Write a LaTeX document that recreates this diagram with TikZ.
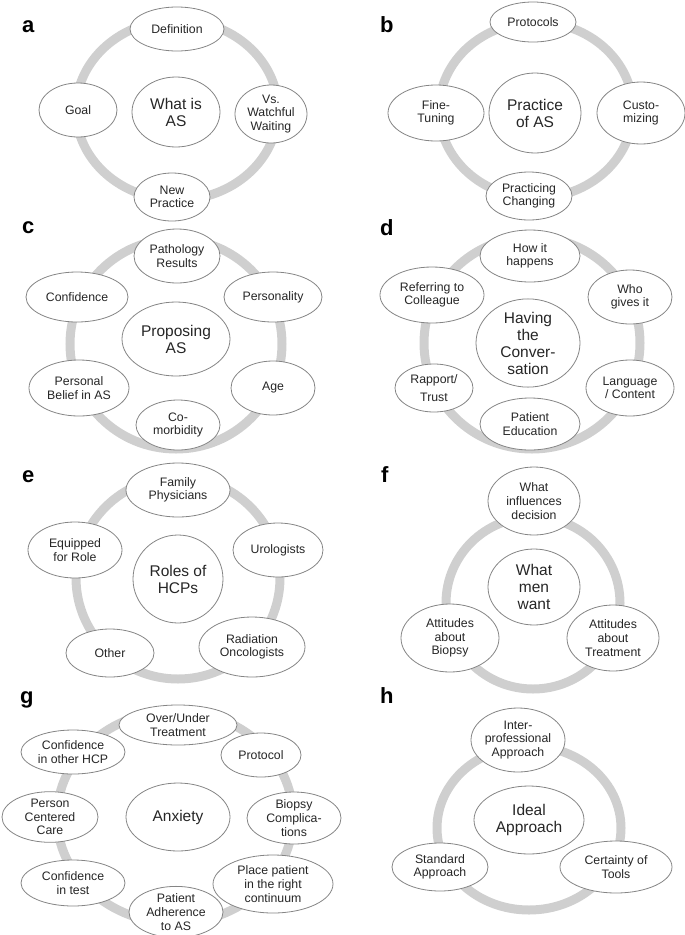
\documentclass[tikz,border=0pt]{standalone}
\usepackage{fontspec}
\setmainfont{Liberation Sans}
\usepackage{tikz}
\usetikzlibrary{shapes.geometric}
\tikzset{
	cycle diagram/.style={
		x=1pt, y=-1pt,
		every node/.style={font=\fontsize{12.3}{13.6}\selectfont, text=black!85}
		},
	ring/.style={draw=black!19, line width=9pt},
	bub/.style 2 args={ellipse, draw=black!48, line width=0.8pt, fill=white,
		minimum width=#1pt, minimum height=#2pt, inner sep=0pt, align=center},
	hub/.style 2 args={bub={#1}{#2}, font=\fontsize{15.5}{17}\selectfont},
	panel/.style={anchor=base west, inner sep=0pt, text=black,
		font=\fontsize{22}{22}\selectfont\bfseries}
}

\begin{document}
\begin{tikzpicture}[cycle diagram]
   \useasboundingbox (0,0) rectangle (685,935);

   \draw[ring] (177,110) ellipse [x radius=101pt, y radius=90pt];
   \node[panel] (la) at (22,32) {a};
   \node[bub={94}{44}] (a1) at (177,29) {Definition};
   \node[bub={78}{54}] (a2) at (78,110) {Goal};
   \node[hub={88}{70}] (a0) at (176,112) {What is\\AS};
   \node[bub={72}{58}] (a3) at (271,114) {Vs.\\Watchful\\Waiting};
   \node[bub={76}{48}] (a4) at (172,197) {New\\Practice};

   \draw[ring] (536,110) ellipse [x radius=97pt, y radius=88pt];
   \node[panel] (lb) at (380,32) {b};
   \node[bub={86}{40}] (b1) at (533,22) {Protocols};
   \node[bub={96}{56}] (b2) at (436,113) {Fine-\\Tuning};
   \node[hub={92}{80}] (b0) at (535,113) {Practice\\of AS};
   \node[bub={88}{62}] (b3) at (641,113) {Custo-\\mizing};
   \node[bub={86}{48}] (b4) at (529,196) {Practicing\\Changing};

   \draw[ring] (176,344) ellipse [x radius=106pt, y radius=105pt];
   \node[panel] (lc) at (22,233) {c};
   \node[bub={86}{54}] (c1) at (177,256) {Pathology\\Results};
   \node[bub={102}{50}] (c2) at (77,297) {Confidence};
   \node[bub={98}{50}] (c3) at (273,297) {Personality};
   \node[hub={108}{74}] (c0) at (176,339) {Proposing\\AS};
   \node[bub={100}{56}] (c4) at (79,388) {Personal\\Belief in AS};
   \node[bub={84}{54}] (c5) at (273,388) {Age};
   \node[bub={84}{50}] (c6) at (178,425) {Co-\\morbidity};

   \draw[ring] (532,343) ellipse [x radius=108pt, y radius=106pt];
   \node[panel] (ld) at (380,235) {d};
   \node[bub={100}{52}] (d1) at (530,256) {How it\\happens};
   \node[bub={104}{56}] (d2) at (432,295) {Referring to\\Colleague};
   \node[bub={84}{54}] (d3) at (630,297) {Who\\gives it};
   \node[hub={104}{86}] (d0) at (528,343) {Having\\the\\Conver-\\sation};
   \node[bub={78}{48}] (d4) at (434,388) {Rapport/\\[4pt]Trust};
   \node[bub={88}{56}] (d5) at (630,388) {Language\\/ Content};
   \node[bub={100}{52}] (d6) at (530,424) {Patient\\Education};

   \draw[ring] (178,578) ellipse [x radius=102pt, y radius=101pt];
   \node[panel] (le) at (22,482) {e};
   \node[bub={104}{54}] (e1) at (178,490) {Family\\Physicians};
   \node[bub={94}{56}] (e2) at (75,550) {Equipped\\for Role};
   \node[bub={90}{54}] (e3) at (278,550) {Urologists};
   \node[hub={90}{88}] (e0) at (178,579) {Roles of\\HCPs};
   \node[bub={88}{48}] (e4) at (110,653) {Other};
   \node[bub={106}{60}] (e5) at (252,647) {Radiation\\Oncologists};

   \draw[ring] (533,603) ellipse [x radius=87pt, y radius=86pt];
   \node[panel] (lf) at (381,482) {f};
   \node[bub={92}{68}] (f1) at (534,501) {What\\influences\\decision};
   \node[hub={92}{76}] (f0) at (534,587) {What\\men\\want};
   \node[bub={98}{68}] (f2) at (450,638) {Attitudes\\about\\Biopsy};
   \node[bub={92}{66}] (f3) at (613,638) {Attitudes\\about\\Treatment};

   \draw[ring] (175,817) ellipse [x radius=118pt, y radius=106pt];
   \node[panel] (lg) at (20,703) {g};
   \node[bub={118}{40}] (g1) at (178,725) {Over/Under\\Treatment};
   \node[bub={104}{44}] (g2) at (73,752) {Confidence\\in other HCP};
   \node[bub={80}{44}] (g3) at (261,755) {Protocol};
   \node[bub={96}{48}] (g4) at (50,817) {Person\\Centered\\Care};
   \node[hub={104}{68}] (g0) at (178,817) {Anxiety};
   \node[bub={94}{52}] (g5) at (294,818) {Biopsy\\Complica-\\tions};
   \node[bub={104}{46}] (g6) at (73,883) {Confidence\\in test};
   \node[bub={120}{58}] (g7) at (273,884) {Place patient\\in the right\\continuum};
   \node[bub={94}{46}] (g8) at (176,912) {Patient\\Adherence\\to AS};

   \draw[ring] (529,828) ellipse [x radius=92pt, y radius=82pt];
   \node[panel] (lh) at (380,703) {h};
   \node[bub={94}{64}] (h1) at (518,740) {Inter-\\professional\\Approach};
   \node[hub={110}{68}] (h0) at (529,820) {Ideal\\Approach};
   \node[bub={96}{48}] (h2) at (440,867) {Standard\\Approach};
   \node[bub={112}{52}] (h3) at (616,867) {Certainty of\\Tools};
\end{tikzpicture}
\end{document}
